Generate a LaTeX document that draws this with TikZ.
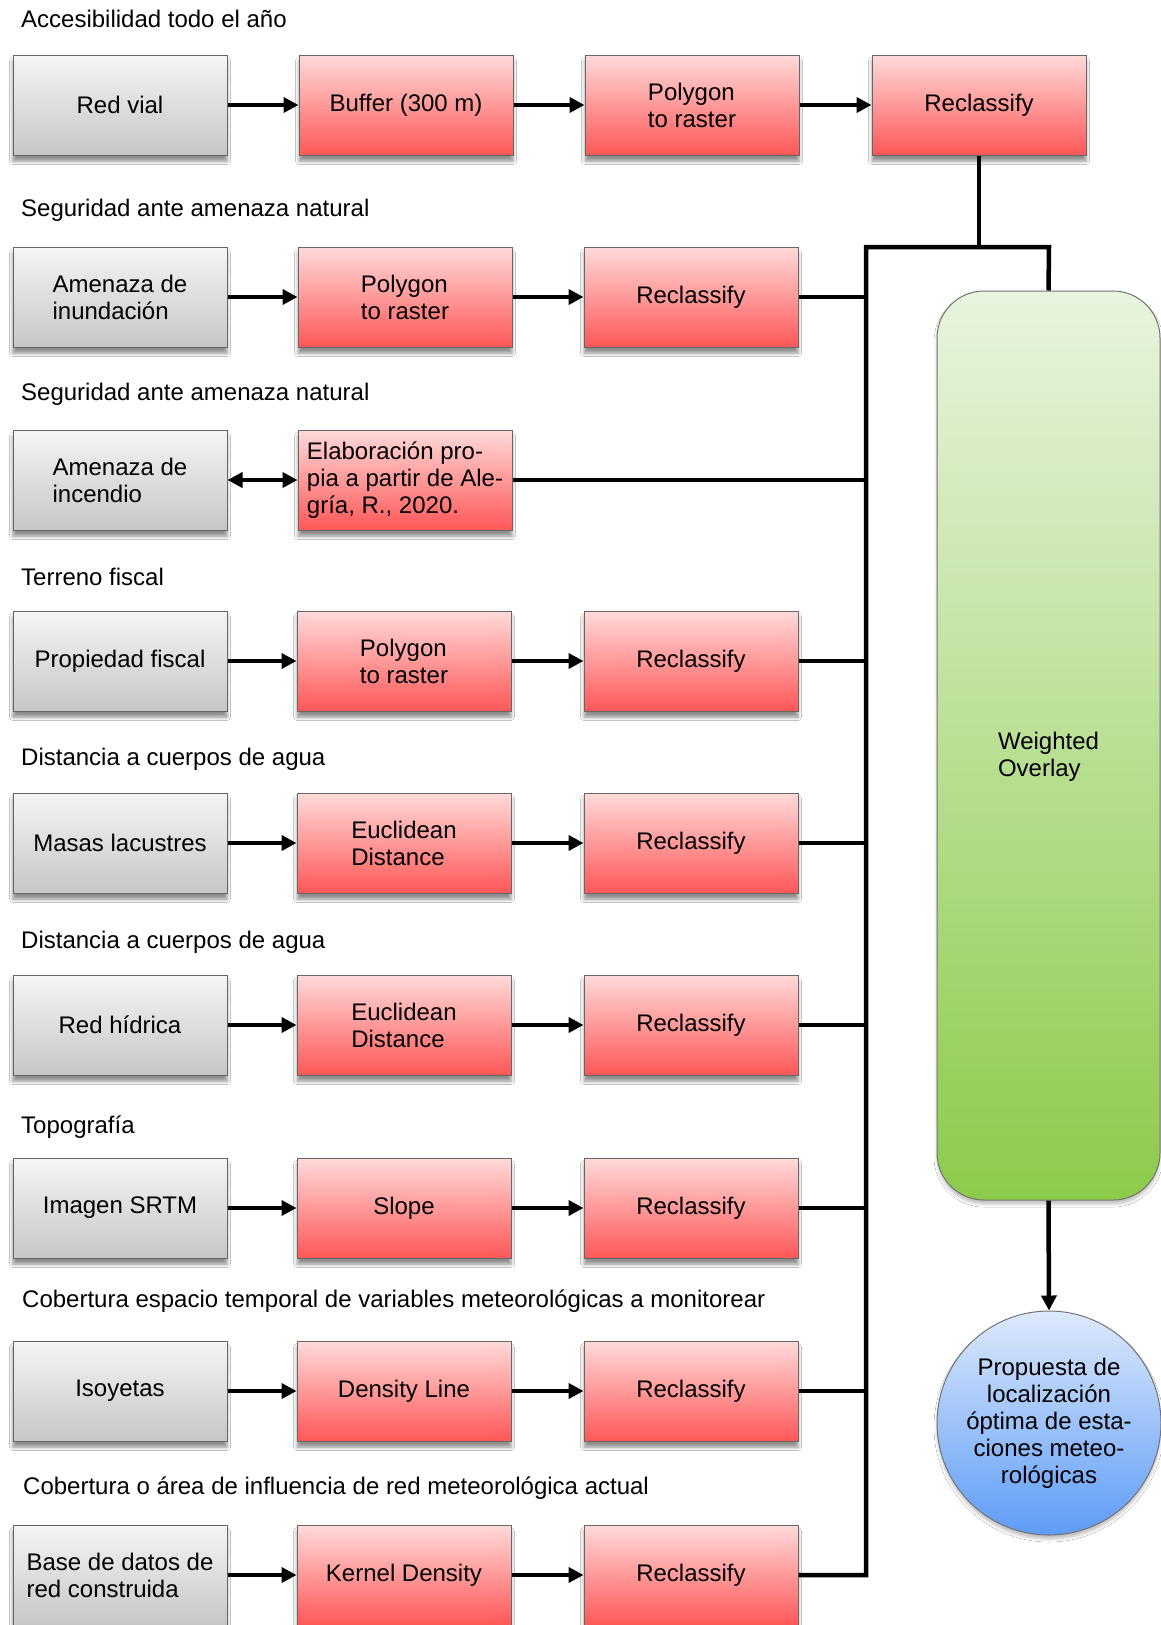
\documentclass[tikz,border=0pt]{standalone}
\usepackage{fontspec}
\setmainfont{Liberation Sans}
\usetikzlibrary{arrows.meta,shadows.blur}
\definecolor{gtop}{HTML}{F5F5F5}
\definecolor{gbot}{HTML}{C6C6C6}
\definecolor{rtop}{HTML}{FFDADA}
\definecolor{rbot}{HTML}{FF5757}
\definecolor{vtop}{HTML}{E8F4DE}
\definecolor{vbot}{HTML}{8CCB4A}
\definecolor{btop}{HTML}{DDE9FB}
\definecolor{bbot}{HTML}{5E9CF7}
\newcommand{\myfs}{\fontsize{24}{27}\selectfont}
\tikzset{
  base/.style={draw=black!60, line width=1pt, minimum width=214pt, minimum height=100pt,
    inner sep=5pt, font=\myfs,
    blur shadow={shadow xshift=0pt, shadow yshift=-6pt, shadow blur radius=3.5pt, shadow opacity=45}},
  graybox/.style={base, top color=gtop, bottom color=gbot},
  redbox/.style={base, top color=rtop, bottom color=rbot},
  ttl/.style={anchor=west, font=\myfs, inner sep=0pt},
  arr/.style={line width=4.5pt, -{Triangle[length=15pt,width=15pt]}},
  darr/.style={line width=4.5pt, {Triangle[length=15pt,width=15pt]}-{Triangle[length=15pt,width=15pt]}},
  wire/.style={line width=4.5pt, line join=miter}
}
\begin{document}
\begin{tikzpicture}[x=1pt,y=-1pt]
\useasboundingbox (0,0) rectangle (1161,1625);
\fill[white] (0,0) rectangle (1161,1625);

% titles
\node[ttl] (t1) at (21,19) {Accesibilidad todo el año};
\node[ttl] (t2) at (21,210) {Seguridad ante amenaza natural};
\node[ttl] (t3) at (21,394) {Seguridad ante amenaza natural};
\node[ttl] (t4) at (21,577) {Terreno fiscal};
\node[ttl] (t5) at (21,759) {Distancia a cuerpos de agua};
\node[ttl] (t6) at (21,942) {Distancia a cuerpos de agua};
\node[ttl] (t7) at (21,1127) {Topografía};
\node[ttl] (t8) at (22,1301) {Cobertura espacio temporal de variables meteorológicas a monitorear};
\node[ttl] (t9) at (23,1488) {Cobertura o área de influencia de red meteorológica actual};

% row 1
\node[graybox] (g1) at (120,105) {Red vial};
\node[redbox] (a1) at (406,105) {Buffer (300 m)};
\node[redbox, align=left] (b1) at (692,105) {Polygon\\to raster};
\node[redbox] (rc1) at (979,105) {Reclassify};
% row 2
\node[graybox, align=left] (g2) at (120,297) {Amenaza de\\inundación};
\node[redbox, align=left] (a2) at (405,297) {Polygon\\to raster};
\node[redbox] (rc2) at (691,297) {Reclassify};
% row 3
\node[graybox, align=left] (g3) at (120,480) {Amenaza de\\incendio};
\node[redbox, align=left] (a3) at (405,480) {Elaboración pro-\\pia a partir de Ale-\\gría, R., 2020.};
% row 4
\node[graybox] (g4) at (120,661) {Propiedad fiscal};
\node[redbox, align=left] (a4) at (404,661) {Polygon\\to raster};
\node[redbox] (rc4) at (691,661) {Reclassify};
% row 5
\node[graybox] (g5) at (120,843) {Masas lacustres};
\node[redbox, align=left] (a5) at (404,843) {Euclidean\\Distance};
\node[redbox] (rc5) at (691,843) {Reclassify};
% row 6
\node[graybox] (g6) at (120,1025) {Red hídrica};
\node[redbox, align=left] (a6) at (404,1025) {Euclidean\\Distance};
\node[redbox] (rc6) at (691,1025) {Reclassify};
% row 7
\node[graybox] (g7) at (120,1208) {Imagen SRTM};
\node[redbox] (a7) at (404,1208) {Slope};
\node[redbox] (rc7) at (691,1208) {Reclassify};
% row 8
\node[graybox] (g8) at (120,1391) {Isoyetas};
\node[redbox] (a8) at (404,1391) {Density Line};
\node[redbox] (rc8) at (691,1391) {Reclassify};
% row 9
\node[graybox, align=left] (g9) at (120,1575) {Base de datos de\\red construida};
\node[redbox] (a9) at (404,1575) {Kernel Density};
\node[redbox] (rc9) at (691,1575) {Reclassify};

% green box and circle
\node[draw=black!55, line width=1pt, rounded corners=47pt, minimum width=223pt, minimum height=909pt,
  top color=vtop, bottom color=vbot,
  blur shadow={shadow xshift=0pt, shadow yshift=-4pt, shadow blur radius=3pt, shadow opacity=25},
  label={[font=\myfs, align=left, yshift=-11pt]center:{Weighted\\Overlay}}]
  (wo) at (1048.5,745.5) {};
\node[circle, draw=black!55, line width=1pt, minimum size=224pt, inner sep=0pt,
  top color=btop, bottom color=bbot, font=\myfs, align=center,
  blur shadow={shadow xshift=0pt, shadow yshift=-4pt, shadow blur radius=3pt, shadow opacity=25}]
  (out) at (1049,1423) {Propuesta de\\localización\\óptima de esta-\\ciones meteo-\\rológicas};

% arrows within rows
\draw[arr] (g1) -- (a1);
\draw[arr] (a1) -- (b1);
\draw[arr] (b1) -- (rc1);
\draw[arr] (g2) -- (a2);
\draw[arr] (a2) -- (rc2);
\draw[darr] (g3) -- (a3);
\draw[arr] (g4) -- (a4);
\draw[arr] (a4) -- (rc4);
\draw[arr] (g5) -- (a5);
\draw[arr] (a5) -- (rc5);
\draw[arr] (g6) -- (a6);
\draw[arr] (a6) -- (rc6);
\draw[arr] (g7) -- (a7);
\draw[arr] (a7) -- (rc7);
\draw[arr] (g8) -- (a8);
\draw[arr] (a8) -- (rc8);
\draw[arr] (g9) -- (a9);
\draw[arr] (a9) -- (rc9);

% bus
\coordinate (bt) at (866,247);
\coordinate (jt) at (979,247);
\coordinate (gt) at (1049,247);
\draw[wire] (rc1.south) -- (jt);
\draw[wire] (rc9.east) -- (rc9.east -| bt) -- (bt) -- (gt) -- (wo.north);
\draw[wire] (rc2.east) -- (rc2.east -| bt);
\draw[wire] (a3.east) -- (a3.east -| bt);
\draw[wire] (rc4.east) -- (rc4.east -| bt);
\draw[wire] (rc5.east) -- (rc5.east -| bt);
\draw[wire] (rc6.east) -- (rc6.east -| bt);
\draw[wire] (rc7.east) -- (rc7.east -| bt);
\draw[wire] (rc8.east) -- (rc8.east -| bt);
\draw[arr] (wo.south) -- (out.north);
\end{tikzpicture}
\end{document}
